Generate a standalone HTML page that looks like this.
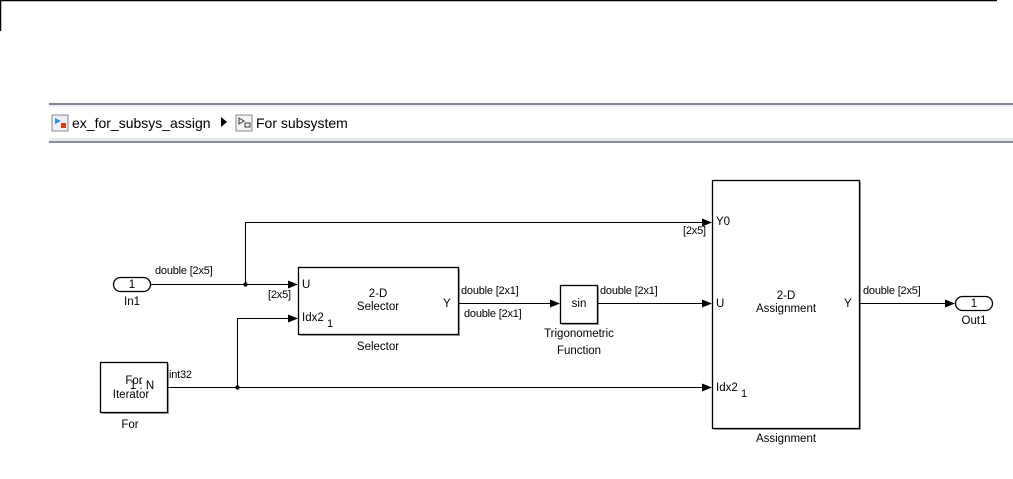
<!DOCTYPE html>
<html><head><style>
body{margin:0;background:#fff;width:1013px;height:479px;overflow:hidden}
svg{position:absolute;left:0;top:0}
text{font-family:"Liberation Sans",Arial,sans-serif;fill:#000}
.s{font-size:11px;letter-spacing:-0.2px}
.m{font-size:11.5px}
</style></head><body>
<svg width="1013" height="479" viewBox="0 0 1013 479">
<defs><marker id="a" markerWidth="10" markerHeight="8" refX="9" refY="4" orient="auto" markerUnits="userSpaceOnUse"><path d="M0,0 L10,4 L0,8z" fill="#000"/></marker></defs>
<line x1="0" y1="0.5" x2="997" y2="0.5" stroke="#000" stroke-width="1.5"/>
<line x1="0.5" y1="0" x2="0.5" y2="31" stroke="#000" stroke-width="1.5"/>
<rect x="49" y="103" width="964" height="2" fill="#7d8290"/>
<rect x="49" y="105" width="964" height="2" fill="#eceef2"/>
<rect x="49" y="138" width="964" height="3" fill="#e6e8ec"/>
<rect x="49" y="141" width="964" height="2" fill="#8a8f9c"/>
<rect x="52" y="115" width="16" height="16" fill="#eef" stroke="#888"/>
<path d="M55,118 l6,3 l-6,3z" fill="#3a8ad0"/><rect x="61" y="123" width="5" height="5" fill="#d04010"/>
<text x="72" y="128" style="font-size:14px">ex_for_subsys_assign</text>
<path d="M221,117 l6,5 l-6,5z" fill="#000"/>
<rect x="236" y="115" width="16" height="16" fill="#f4f4f4" stroke="#888"/>
<path d="M239,118 l5,3 l-5,3z" fill="none" stroke="#333"/><rect x="245" y="123" width="5" height="4" fill="none" stroke="#333"/>
<text x="256" y="128" style="font-size:14px">For subsystem</text>

<g stroke="#000" stroke-width="1" fill="none">
<rect x="300" y="269" width="160" height="67" fill="#aaa" stroke="none"/>
<rect x="562" y="287" width="37" height="38" fill="#aaa" stroke="none"/>
<rect x="714" y="182" width="147" height="248" fill="#aaa" stroke="none"/>
<rect x="102" y="364" width="67" height="50" fill="#aaa" stroke="none"/>
<rect x="298.5" y="267.5" width="160" height="67" fill="#fff" stroke-width="1.3"/>
<rect x="560.5" y="285.5" width="37" height="38" fill="#fff" stroke-width="1.3"/>
<rect x="712.5" y="180.5" width="147" height="248" fill="#fff" stroke-width="1.3"/>
<rect x="100.5" y="362.5" width="67" height="50" fill="#fff" stroke-width="1.3"/>
<rect x="113.5" y="277.5" width="37" height="14" rx="7" fill="#fff" stroke-width="1.3"/>
<rect x="955.5" y="296.5" width="37" height="14" rx="7" fill="#fff" stroke-width="1.3"/>
<path d="M151,284.5 H297" marker-end="url(#a)"/>
<path d="M245.5,284.5 V222.5 H711" marker-end="url(#a)"/>
<path d="M168,387.5 H711" marker-end="url(#a)"/>
<path d="M237.5,387.5 V318.5 H297" marker-end="url(#a)"/>
<path d="M459,303.5 H559" marker-end="url(#a)"/>
<path d="M598,303.5 H711" marker-end="url(#a)"/>
<path d="M860,303.5 H954" marker-end="url(#a)"/>
</g>
<circle cx="245.5" cy="284.5" r="2.2"/><circle cx="237.5" cy="387.5" r="2.2"/>
<text class="m" x="132" y="288" text-anchor="middle">1</text>
<text class="m" x="974" y="307" text-anchor="middle">1</text>
<text class="m" x="132" y="305" text-anchor="middle">In1</text>
<text class="m" x="974" y="324" text-anchor="middle">Out1</text>
<text class="s" x="155" y="274">double [2x5]</text>
<text class="s" x="268" y="298">[2x5]</text>
<text class="m" x="302" y="288">U</text>
<text class="m" x="302" y="321">Idx2</text><text class="s" x="327" y="327">1</text>
<text class="m" x="378" y="297" text-anchor="middle">2-D</text>
<text class="m" x="378" y="310" text-anchor="middle">Selector</text>
<text class="m" x="443" y="307">Y</text>
<text class="m" x="378" y="350" text-anchor="middle">Selector</text>
<text class="s" x="461" y="294">double [2x1]</text>
<text class="s" x="464" y="317">double [2x1]</text>
<text class="m" x="579" y="307" text-anchor="middle">sin</text>
<text class="m" x="579" y="337" text-anchor="middle">Trigonometric</text>
<text class="m" x="579" y="354" text-anchor="middle">Function</text>
<text class="s" x="600" y="294">double [2x1]</text>
<text class="s" x="683" y="234">[2x5]</text>
<text class="m" x="716" y="225">Y0</text>
<text class="m" x="716" y="307">U</text>
<text class="m" x="716" y="391">Idx2</text><text class="s" x="741" y="397">1</text>
<text class="m" x="786" y="299" text-anchor="middle">2-D</text>
<text class="m" x="786" y="312" text-anchor="middle">Assignment</text>
<text class="m" x="844" y="307">Y</text>
<text class="m" x="786" y="442" text-anchor="middle">Assignment</text>
<text class="s" x="863" y="294">double [2x5]</text>
<text class="m" x="134" y="384" text-anchor="middle">For</text>
<text class="m" x="142" y="389" text-anchor="middle">1 : N</text>
<text class="m" x="131" y="398" text-anchor="middle">Iterator</text>
<text class="m" x="130" y="428" text-anchor="middle">For</text>
<text class="s" x="169" y="378">int32</text>
</svg>
</body></html>
